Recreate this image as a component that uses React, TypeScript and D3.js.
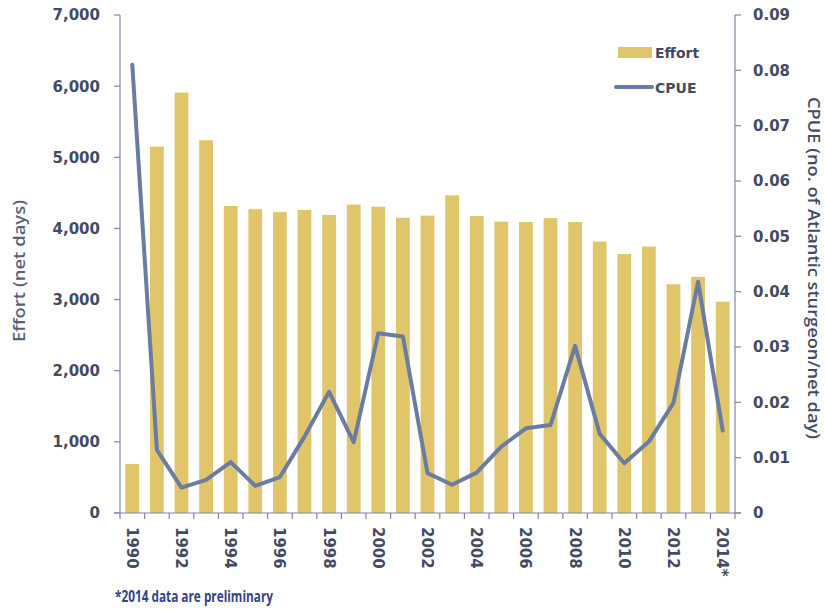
import React from "react";
import * as d3 from "d3";

const years = [
  "1990","1991","1992","1993","1994","1995","1996","1997","1998","1999",
  "2000","2001","2002","2003","2004","2005","2006","2007","2008","2009",
  "2010","2011","2012","2013","2014",
];
const effort = [
  690, 5150, 5910, 5240, 4315, 4270, 4230, 4260, 4190, 4335,
  4305, 4150, 4180, 4465, 4175, 4095, 4090, 4145, 4090, 3815,
  3640, 3745, 3215, 3320, 2970,
];
const cpue = [
  0.081, 0.0114, 0.0046, 0.006, 0.0092, 0.0049, 0.0065, 0.0138, 0.0219, 0.0128,
  0.0325, 0.0319, 0.0072, 0.0051, 0.0073, 0.012, 0.0153, 0.0159, 0.0302, 0.0143,
  0.009, 0.0129, 0.0199, 0.0418, 0.0149,
];
const effortTicks = [0, 1000, 2000, 3000, 4000, 5000, 6000, 7000];
const cpueTicks = [0, 0.01, 0.02, 0.03, 0.04, 0.05, 0.06, 0.07, 0.08, 0.09];
const xLabels: Record<string, string> = {
  "1990": "1990", "1992": "1992", "1994": "1994", "1996": "1996", "1998": "1998",
  "2000": "2000", "2002": "2002", "2004": "2004", "2006": "2006", "2008": "2008",
  "2010": "2010", "2012": "2012", "2014": "2014*",
};

const W = 825, H = 611;
const M = { left: 120, right: 735, top: 15, bottom: 513 };
const BAR = "#e1c56b";
const LINE = "#6b7ca2";
const AXIS = "#7d88aa";
const TEXT = "#454a63";
const TICKFONT = "'DejaVu Sans', sans-serif";

export default function App() {
  const x = d3.scaleBand<string>().domain(years).range([M.left, M.right]).paddingInner(0.44).paddingOuter(0.22);
  const step = (M.right - M.left) / years.length;
  const yL = d3.scaleLinear().domain([0, 7000]).range([M.bottom, M.top]);
  const yR = d3.scaleLinear().domain([0, 0.09]).range([M.bottom, M.top]);
  const line = d3.line<number>()
    .x((_, i) => (x(years[i]) as number) + x.bandwidth() / 2)
    .y((d) => yR(d));
  const fmt = d3.format(",");
  const fmtR = (v: number) => (v === 0 ? "0" : v.toFixed(2));

  return (
    <svg width={W} height={H} style={{ position: "absolute", left: 0, top: 0, background: "#fff" }}>
      {/* bars */}
      {years.map((yr, i) => (
        <rect key={yr} x={x(yr)} y={yL(effort[i])} width={x.bandwidth()} height={yL(0) - yL(effort[i])} fill={BAR} />
      ))}
      {/* line */}
      <path d={line(cpue) || ""} fill="none" stroke={LINE} strokeWidth={4} strokeLinejoin="round" strokeLinecap="round" />

      {/* left axis */}
      <line x1={M.left} x2={M.left} y1={M.top} y2={M.bottom} stroke={AXIS} strokeWidth={1.2} />
      {effortTicks.map((t) => (
        <g key={t}>
          <line x1={M.left - 6} x2={M.left} y1={yL(t)} y2={yL(t)} stroke={AXIS} strokeWidth={1.2} />
          <text x={100} y={yL(t)} dy="0.36em" textAnchor="end" fontFamily={TICKFONT} fontWeight="bold" fontSize={15} fill={TEXT}>
            {fmt(t)}
          </text>
        </g>
      ))}
      {/* right axis */}
      <line x1={M.right} x2={M.right} y1={M.top} y2={M.bottom} stroke={AXIS} strokeWidth={1.2} />
      {cpueTicks.map((t) => (
        <g key={t}>
          <line x1={M.right} x2={M.right + 6} y1={yR(t)} y2={yR(t)} stroke={AXIS} strokeWidth={1.2} />
          <text x={753} y={yR(t)} dy="0.36em" textAnchor="start" fontFamily={TICKFONT} fontWeight="bold" fontSize={15} fill={TEXT}>
            {fmtR(t)}
          </text>
        </g>
      ))}
      {/* x axis */}
      <line x1={M.left - 6} x2={M.right + 6} y1={M.bottom} y2={M.bottom} stroke={AXIS} strokeWidth={1.2} />
      {d3.range(years.length + 1).map((i) => (
        <line key={i} x1={M.left + i * step} x2={M.left + i * step} y1={M.bottom} y2={M.bottom + 6} stroke={AXIS} strokeWidth={1.2} />
      ))}
      {years.filter((yr) => xLabels[yr]).map((yr) => (
        <text
          key={yr}
          transform={`translate(${(x(yr) as number) + x.bandwidth() / 2},${527}) rotate(90)`}
          dy="0.36em"
          textAnchor="start"
          fontFamily={TICKFONT}
          fontWeight="bold"
          fontSize={15}
          fill={TEXT}
        >
          {xLabels[yr]}
        </text>
      ))}

      {/* axis titles */}
      <text transform={`translate(19,271) rotate(-90)`} textAnchor="middle" dy="0.36em" fontFamily="'Open Sans', sans-serif" fontWeight={600} fontSize={16} fill="#5a5f78" textLength={142} lengthAdjust="spacingAndGlyphs">
        Effort (net days)
      </text>
      <text transform={`translate(814,268) rotate(90)`} textAnchor="middle" dy="0.36em" fontFamily="'Open Sans', sans-serif" fontWeight={600} fontSize={16.5} fill={TEXT} textLength={342} lengthAdjust="spacingAndGlyphs">
        CPUE (no. of Atlantic sturgeon/net day)
      </text>

      {/* legend */}
      <rect x={618} y={47} width={34} height={11} fill={BAR} />
      <text x={655} y={58} fontFamily={TICKFONT} fontWeight="bold" fontSize={14} fill={TEXT}>Effort</text>
      <line x1={616} x2={652} y1={87} y2={87} stroke={LINE} strokeWidth={4} strokeLinecap="round" />
      <text x={655} y={93} fontFamily={TICKFONT} fontWeight="bold" fontSize={14} fill={TEXT}>CPUE</text>

      {/* footnote */}
      <text x={115} y={602} fontFamily="'Liberation Sans Narrow', 'Open Sans', sans-serif" fontWeight="bold" fontSize={16} fill="#34428a" textLength={158} lengthAdjust="spacingAndGlyphs">
        *2014 data are preliminary
      </text>
    </svg>
  );
}
